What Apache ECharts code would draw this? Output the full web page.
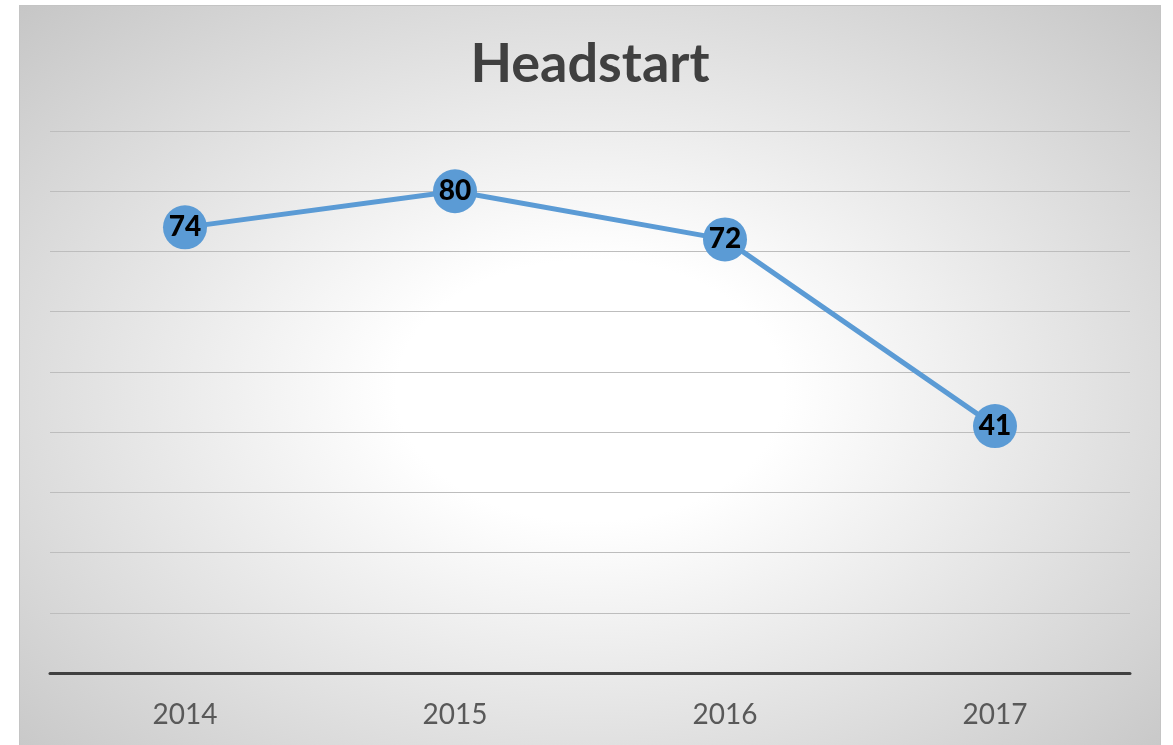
<!DOCTYPE html>
<html>
<head>
<meta charset="utf-8">
<script src="https://cdn.jsdelivr.net/npm/echarts@6/dist/echarts.min.js"></script>
<style>
  html, body { margin: 0; padding: 0; background: #ffffff; width: 1173px; height: 745px; overflow: hidden; }
  #panel {
    position: absolute; left: 19px; top: 5px; width: 1142px; height: 742px;
    box-sizing: border-box; border: 1px solid #c4c4c4;
    background: radial-gradient(ellipse farthest-corner at 50% 52%, #ffffff 0%, #ffffff 24%, #c6c6c6 100%);
  }
  #chart { position: absolute; left: 0; top: 0; width: 1140px; height: 740px; }
</style>
</head>
<body>
<div id="panel"><div id="chart"></div></div>
<script>
const title = 'Headstart';
const categories = ['2014', '2015', '2016', '2017'];
const values = [74, 80, 72, 41];
const yMin = 0, yMax = 90, yStep = 10;

const chart = echarts.init(document.getElementById('chart'), null, { renderer: 'canvas' });
chart.setOption({
  backgroundColor: 'transparent',
  animation: false,
  title: {
    text: title, left: 'center', top: 27,
    textStyle: { fontFamily: 'Lato', fontWeight: 'bold', fontSize: 54, color: '#404040' }
  },
  grid: { left: 30, right: 30, top: 125, bottom: 73 },
  xAxis: {
    type: 'category', data: categories, boundaryGap: true,
    axisLine: { lineStyle: { color: '#404040', width: 3 } },
    axisTick: { show: false },
    axisLabel: { fontFamily: 'Lato', fontSize: 28, color: '#595959', margin: 28 }
  },
  yAxis: {
    type: 'value', min: yMin, max: yMax, interval: yStep,
    axisLine: { show: false }, axisTick: { show: false }, axisLabel: { show: false },
    splitLine: { lineStyle: { color: '#bdbdbd', width: 1 } }
  },
  series: [{
    type: 'line', data: values,
    lineStyle: { color: '#5B9BD5', width: 5 },
    itemStyle: { color: '#5B9BD5' },
    symbol: 'circle', symbolSize: 44,
    label: {
      show: true, position: 'inside',
      fontFamily: 'Lato', fontWeight: 900, fontSize: 28, color: '#000000'
    }
  }]
});
</script>
</body>
</html>
